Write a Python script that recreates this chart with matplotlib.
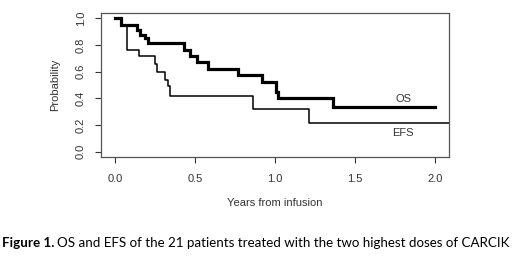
import matplotlib
matplotlib.use("Agg")
import matplotlib.pyplot as plt

# Kaplan-Meier step values
os_t = [0.0, 0.036, 0.135, 0.156, 0.188, 0.204, 0.43, 0.469, 0.51, 0.583, 0.77, 0.917, 1.006, 1.02, 1.365, 2.0]
os_s = [1.0, 0.952, 0.913, 0.875, 0.85, 0.813, 0.762, 0.714, 0.67, 0.622, 0.573, 0.52, 0.45, 0.40, 0.336, 0.336]

efs_t = [0.0, 0.036, 0.073, 0.152, 0.25, 0.265, 0.3125, 0.33, 0.344, 0.86, 1.21, 2.3]
efs_s = [1.0, 0.952, 0.762, 0.714, 0.66, 0.60, 0.54, 0.49, 0.42, 0.318, 0.213, 0.213]

xticks = [0.0, 0.5, 1.0, 1.5, 2.0]
yticks = [0.0, 0.2, 0.4, 0.6, 0.8, 1.0]

plt.rcParams['font.family'] = ['Liberation Sans', 'DejaVu Sans']
grey = '#333333'
fs = 8

fig = plt.figure(figsize=(5.2, 2.66), dpi=100)
ax = fig.add_axes([101/520, 1-157/266, 348/520, 144/266])

ax.step(os_t, os_s, where='post', color='black', lw=2.3, solid_joinstyle='miter')
ax.step(efs_t, efs_s, where='post', color='black', lw=1.1)

ax.set_xlim(-0.0875, 2.0875)
ax.set_ylim(-0.04, 1.04)
ax.set_xticks(xticks)
ax.set_xticklabels([f"{v:.1f}" for v in xticks])
ax.set_yticks(yticks)
ax.set_yticklabels([f"{v:.1f}" for v in yticks], rotation=90, va='center')
ax.tick_params(colors=grey, labelcolor=grey, labelsize=fs, length=4, width=0.8)
ax.tick_params(axis='x', pad=8)
ax.tick_params(axis='y', pad=7)
for sp in ax.spines.values():
    sp.set_color('#555555')
    sp.set_linewidth(0.9)

ax.set_xlabel("Years from infusion", color=grey, fontsize=fs, labelpad=10)
ax.set_ylabel("Probability", color=grey, fontsize=fs, labelpad=11)

ax.text(1.8, 0.393, "OS", color=grey, fontsize=fs, ha='center', va='center')
ax.text(1.8, 0.143, "EFS", color=grey, fontsize=fs, ha='center', va='center')

# caption: bold lead-in followed by regular text
cap_y = 1 - 243/266
cfs = 9.6
t1 = fig.text(2/520, cap_y, "Figure 1.", fontsize=cfs, fontweight='bold',
              family=['Lato', 'DejaVu Sans'], va='center', color='black')
fig.canvas.draw()
bb = t1.get_window_extent()
fig.text((bb.x1 + 3)/520, cap_y,
         "OS and EFS of the 21 patients treated with the two highest doses of CARCIK",
         fontsize=cfs, family=['Lato', 'DejaVu Sans'], va='center', color='black')

fig.savefig("out.png", dpi=100)
